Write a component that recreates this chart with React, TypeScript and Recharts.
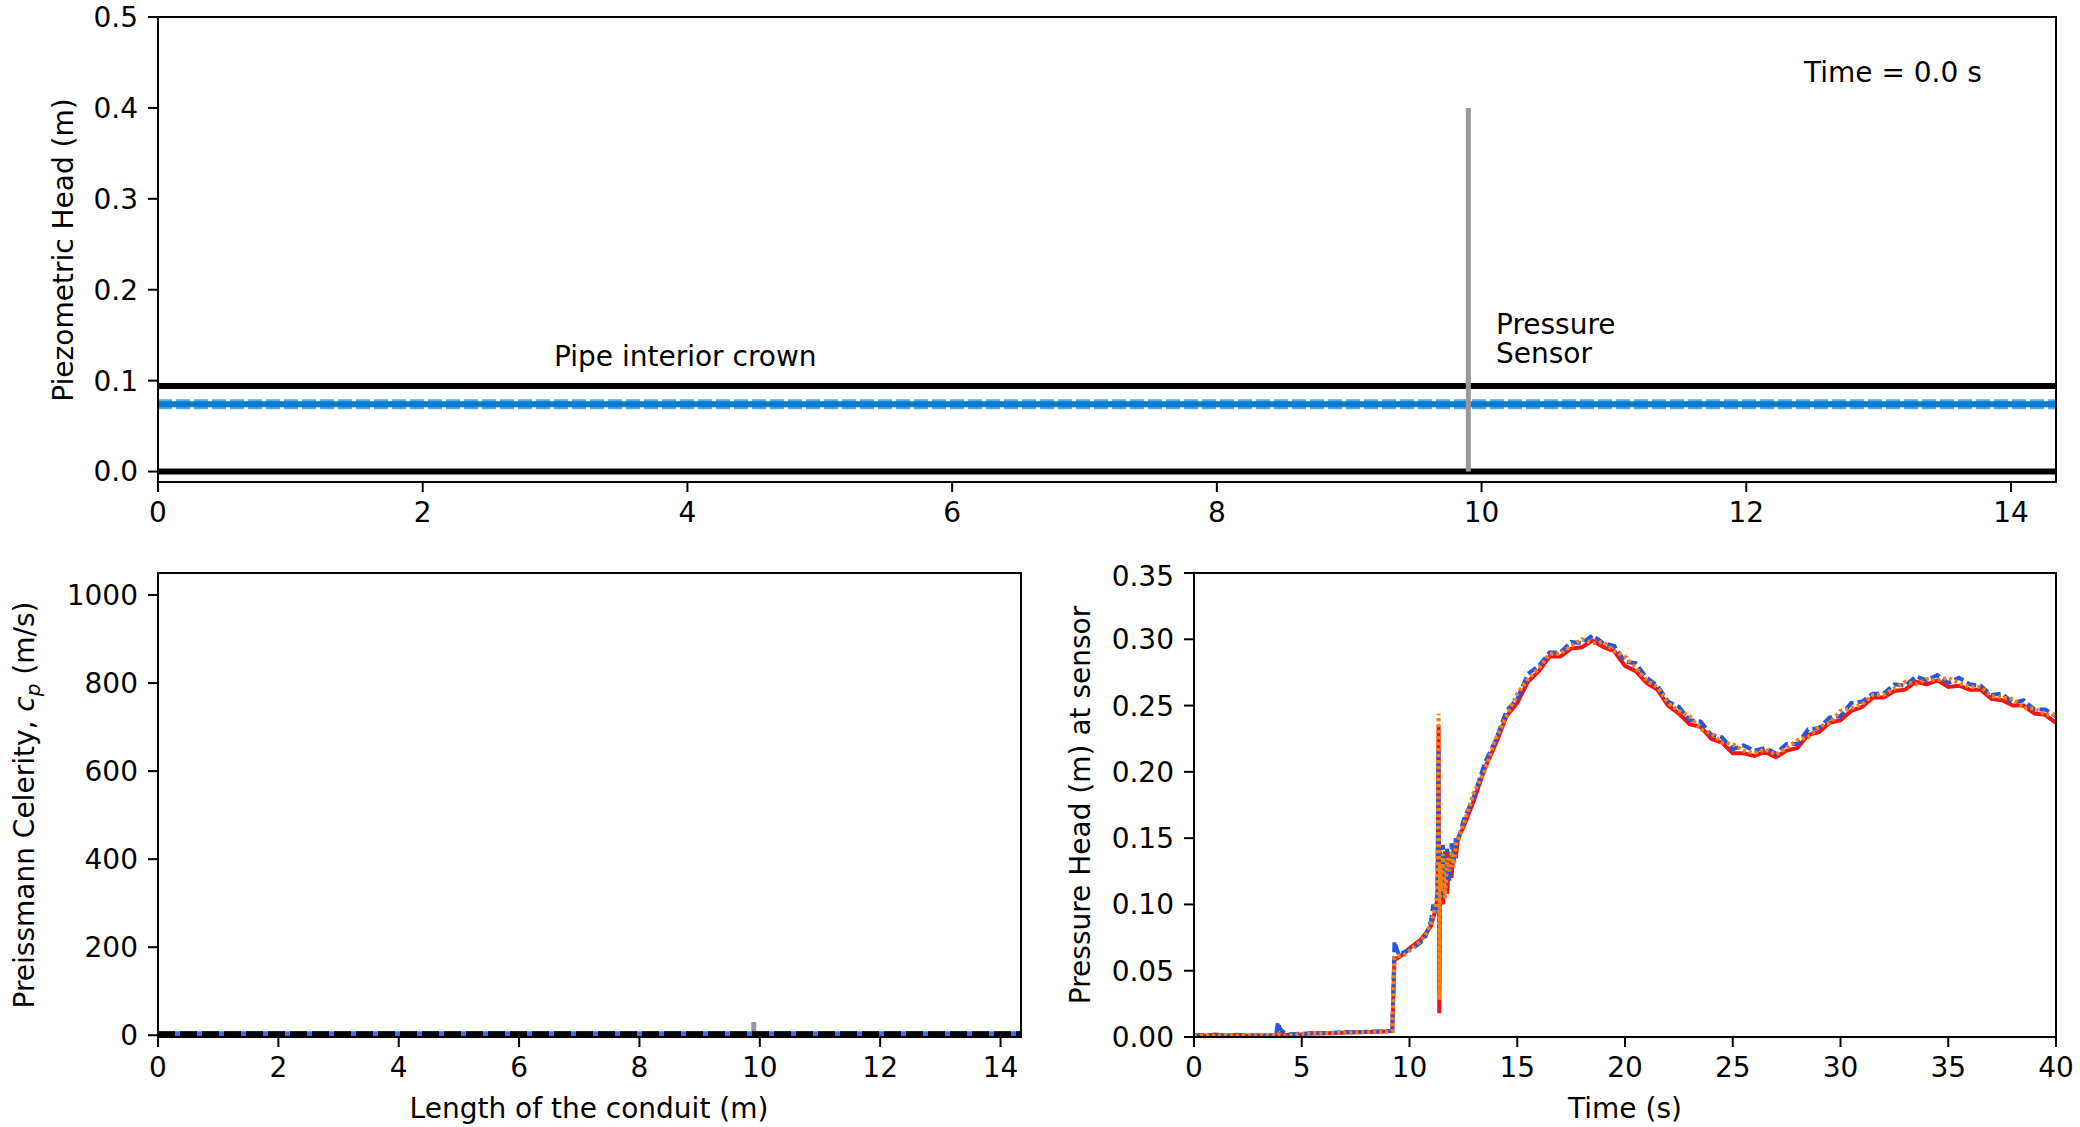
import React from "react";
import { LineChart, Line, XAxis, YAxis } from "recharts";

// ---- top panel: pipe profile at t = 0 ----
const pipeStations = [0, 14.34];
const invertHead = [0, 0];
const crownHead = [0.094, 0.094];
const waterHead = [0.074, 0.074];
const sensorStation = 9.9;
const sensorTopHead = 0.4;
const lengthTicks = [0, 2, 4, 6, 8, 10, 12, 14];
const headTicks = [0, 0.1, 0.2, 0.3, 0.4, 0.5];

// ---- bottom left: Preissmann celerity along the conduit ----
const celerityBlue = [2, 2];
const celerityBlack = [2, 2];
const sensorTopCelerity = 30;
const celerityTicks = [0, 200, 400, 600, 800, 1000];

// ---- bottom right: pressure head at the sensor ----
const timeS = [
  0, 0.5, 1, 1.5, 2, 2.5, 3, 3.5, 3.8, 3.9, 4.0, 4.2, 4.5, 5, 5.5, 6, 6.5, 7, 7.5, 8, 8.5, 9, 9.2,
  9.25, 9.3, 9.5, 9.75, 10, 10.25, 10.5, 10.75, 11.0, 11.1, 11.2, 11.3, 11.35, 11.38, 11.42, 11.46,
  11.55, 11.65, 11.75, 11.85, 11.95, 12.05, 12.15, 12.25,
  12.5, 13, 13.5, 14, 14.5, 15, 15.5, 16, 16.5, 17, 17.5, 18, 18.5, 19, 19.5, 20, 20.5, 21, 21.5, 22,
  22.5, 23, 23.5, 24, 24.5, 25, 25.5, 26, 26.5, 27, 27.5, 28, 28.5, 29, 29.5, 30, 30.5, 31, 31.5, 32,
  32.5, 33, 33.5, 34, 34.5, 35, 35.5, 36, 36.5, 37, 37.5, 38, 38.5, 39, 39.5, 40,
];
const headBlue = [
  0.001, 0.0015, 0.001, 0.0012, 0.0008, 0.0013, 0.001, 0.0012, 0.0015, 0.011, 0.006, 0.003, 0.002,
  0.0025, 0.003, 0.0028, 0.0033, 0.0038, 0.0035, 0.004, 0.0042, 0.0045, 0.0048,
  0.035, 0.072, 0.062, 0.064, 0.066, 0.068, 0.071, 0.076, 0.088, 0.1, 0.094, 0.11, 0.218, 0.034, 0.14,
  0.105, 0.145, 0.112, 0.142, 0.118, 0.146, 0.13, 0.15, 0.148,
  0.163, 0.182, 0.207, 0.224, 0.246, 0.255, 0.274, 0.28, 0.29, 0.29,
  0.298, 0.297, 0.303, 0.297, 0.295, 0.283, 0.282, 0.271, 0.265, 0.253,
  0.249, 0.239, 0.238, 0.228, 0.226, 0.217, 0.22, 0.216, 0.218, 0.214,
  0.221, 0.221, 0.232, 0.233, 0.241, 0.242, 0.252, 0.253, 0.259, 0.259,
  0.266, 0.265, 0.272, 0.269, 0.273, 0.267, 0.271, 0.266, 0.265, 0.258,
  0.259, 0.252, 0.254, 0.247, 0.247, 0.242,
];
const headRed = [
  0.0015, 0.001, 0.0018, 0.001, 0.0016, 0.001, 0.0014, 0.001, 0.0012, 0.003, 0.002, 0.0015, 0.0018,
  0.002, 0.0026, 0.003, 0.0028, 0.0034, 0.0036, 0.0038, 0.004, 0.0043, 0.0045,
  0.03, 0.058, 0.06, 0.063, 0.067, 0.07, 0.073, 0.078, 0.084, 0.09, 0.095, 0.105, 0.235, 0.018, 0.12,
  0.135, 0.1, 0.14, 0.108, 0.138, 0.12, 0.143, 0.135, 0.15,
  0.158, 0.179, 0.203, 0.221, 0.242, 0.252, 0.268, 0.276, 0.287, 0.287,
  0.293, 0.294, 0.299, 0.294, 0.291, 0.28, 0.276, 0.267, 0.262, 0.25,
  0.244, 0.236, 0.234, 0.225, 0.222, 0.214, 0.214, 0.212, 0.215, 0.211,
  0.216, 0.218, 0.228, 0.23, 0.237, 0.239, 0.246, 0.249, 0.256, 0.256,
  0.261, 0.262, 0.268, 0.266, 0.269, 0.264, 0.265, 0.262, 0.262, 0.255,
  0.254, 0.25, 0.25, 0.244, 0.243, 0.237,
];
const headOrange = [
  0.0008, 0.0012, 0.0009, 0.0014, 0.001, 0.0011, 0.0009, 0.0013, 0.001, 0.002, 0.0015, 0.001, 0.0015,
  0.0022, 0.0024, 0.0029, 0.003, 0.0032, 0.0035, 0.0037, 0.0041, 0.004, 0.0044,
  0.032, 0.06, 0.061, 0.062, 0.065, 0.069, 0.072, 0.077, 0.086, 0.092, 0.098, 0.108, 0.244, 0.028, 0.13,
  0.11, 0.138, 0.105, 0.135, 0.125, 0.14, 0.128, 0.145, 0.149,
  0.16, 0.185, 0.201, 0.225, 0.242, 0.259, 0.27, 0.278, 0.289, 0.289,
  0.295, 0.3, 0.297, 0.298, 0.291, 0.287, 0.278, 0.269, 0.264, 0.252,
  0.246, 0.242, 0.232, 0.229, 0.222, 0.221, 0.216, 0.214, 0.217, 0.213,
  0.218, 0.224, 0.226, 0.234, 0.237, 0.246, 0.248, 0.251, 0.258, 0.258,
  0.263, 0.268, 0.266, 0.27, 0.269, 0.271, 0.267, 0.264, 0.264, 0.257,
  0.256, 0.255, 0.248, 0.248, 0.243, 0.243,
];
const timeTicks = [0, 5, 10, 15, 20, 25, 30, 35, 40];
const pressureTicks = [0, 0.05, 0.1, 0.15, 0.2, 0.25, 0.3, 0.35];

const FONT = '"DejaVu Sans", sans-serif';
const tickStyle = { fontSize: 28, fill: "#000", fontFamily: FONT };
const tickLine = { stroke: "#000", strokeWidth: 2 };

const pairs = (xs: number[], ys: number[]) => xs.map((x, i) => ({ x, y: ys[i] }));

const pressureData = timeS.map((t, i) => ({
  t,
  blue: headBlue[i],
  red: headRed[i],
  orange: headOrange[i],
}));

// box around a plot area, in page pixels
const Frame = ({ l, t, r, b }: { l: number; t: number; r: number; b: number }) => (
  <div
    style={{
      position: "absolute",
      left: l - 1,
      top: t - 1,
      width: r - l + 2,
      height: b - t + 2,
      border: "2px solid #000",
      boxSizing: "border-box",
      pointerEvents: "none",
    }}
  />
);

const Text = ({ x, y, children, rotate, center }: any) => (
  <div
    style={{
      position: "absolute",
      left: x,
      top: y,
      fontSize: 28,
      lineHeight: "34px",
      whiteSpace: "nowrap",
      color: "#000",
      transform: center ? `translate(-50%, -50%)${rotate ? " rotate(-90deg)" : ""}` : undefined,
    }}
  >
    {children}
  </div>
);

const App: React.FC = () => {
  const sensorLine = [
    { x: sensorStation, y: 0 },
    { x: sensorStation, y: sensorTopHead },
  ];
  const sensorStub = [
    { x: sensorStation, y: 0 },
    { x: sensorStation, y: sensorTopCelerity },
  ];

  return (
    <div
      style={{
        position: "absolute",
        left: 0,
        top: 0,
        width: 2080,
        height: 1127,
        background: "#fff",
        fontFamily: FONT,
        overflow: "hidden",
      }}
    >
      {/* top: piezometric head along the pipe */}
      <div style={{ position: "absolute", left: 0, top: 0 }}>
        <LineChart width={2080} height={560} margin={{ top: 17, right: 24, bottom: 28, left: 0 }}>
          <XAxis
            type="number"
            dataKey="x"
            domain={[0, 14.34]}
            ticks={lengthTicks}
            allowDataOverflow
            axisLine={false}
            tickLine={tickLine}
            tickSize={10}
            tickMargin={10}
            tick={tickStyle}
            height={50}
          />
          <YAxis
            type="number"
            dataKey="y"
            domain={[-0.0115, 0.5]}
            ticks={headTicks}
            tickFormatter={(v: number) => v.toFixed(1)}
            allowDataOverflow
            axisLine={false}
            tickLine={tickLine}
            tickSize={10}
            tickMargin={10}
            tick={tickStyle}
            width={158}
          />
          <Line data={pairs(pipeStations, invertHead)} dataKey="y" stroke="#000" strokeWidth={6} dot={false} isAnimationActive={false} />
          <Line data={pairs(pipeStations, crownHead)} dataKey="y" stroke="#000" strokeWidth={6} dot={false} isAnimationActive={false} />
          <Line data={pairs(pipeStations, waterHead)} dataKey="y" stroke="#56a8e8" strokeWidth={10} strokeDasharray="14 4" dot={false} isAnimationActive={false} />
          <Line data={pairs(pipeStations, waterHead)} dataKey="y" stroke="#0a7bd0" strokeWidth={6} dot={false} isAnimationActive={false} />
          <Line data={sensorLine} dataKey="y" stroke="#999" strokeWidth={5} dot={false} isAnimationActive={false} />
        </LineChart>
      </div>
      <Frame l={158} t={17} r={2056} b={482} />
      <Text x={1804} y={56}>Time = 0.0 s</Text>
      <Text x={554} y={340}>Pipe interior crown</Text>
      <div style={{ position: "absolute", left: 1496, top: 310, fontSize: 28, lineHeight: "29px" }}>
        Pressure
        <br />
        Sensor
      </div>
      <Text x={64} y={250} center rotate>
        Piezometric Head (m)
      </Text>

      {/* bottom left: celerity */}
      <div style={{ position: "absolute", left: 0, top: 560 }}>
        <LineChart width={1050} height={567} margin={{ top: 13, right: 29, bottom: 40, left: 0 }}>
          <XAxis
            type="number"
            dataKey="x"
            domain={[0, 14.34]}
            ticks={lengthTicks}
            allowDataOverflow
            axisLine={false}
            tickLine={tickLine}
            tickSize={10}
            tickMargin={10}
            tick={tickStyle}
            height={50}
          />
          <YAxis
            type="number"
            dataKey="y"
            domain={[-4, 1050]}
            ticks={celerityTicks}
            allowDataOverflow
            axisLine={false}
            tickLine={tickLine}
            tickSize={10}
            tickMargin={10}
            tick={tickStyle}
            width={158}
          />
          <Line data={sensorStub} dataKey="y" stroke="#999" strokeWidth={5} dot={false} isAnimationActive={false} />
          <Line data={pairs(pipeStations, celerityBlue)} dataKey="y" stroke="#3b6fe8" strokeWidth={6} dot={false} isAnimationActive={false} />
          <Line data={pairs(pipeStations, celerityBlack)} dataKey="y" stroke="#000" strokeWidth={6} strokeDasharray="17 5" dot={false} isAnimationActive={false} />
        </LineChart>
      </div>
      <Frame l={158} t={573} r={1021} b={1037} />
      <Text x={589} y={1109} center>
        Length of the conduit (m)
      </Text>
      <Text x={29} y={805} center rotate>
        Preissmann Celerity, <i>c</i>
        <sub style={{ fontSize: 20 }}>
          <i>p</i>
        </sub>{" "}
        (m/s)
      </Text>

      {/* bottom right: pressure head at sensor */}
      <div style={{ position: "absolute", left: 1100, top: 560 }}>
        <LineChart width={980} height={567} data={pressureData} margin={{ top: 13, right: 24, bottom: 40, left: 0 }}>
          <XAxis
            type="number"
            dataKey="t"
            domain={[0, 40]}
            ticks={timeTicks}
            allowDataOverflow
            axisLine={false}
            tickLine={tickLine}
            tickSize={10}
            tickMargin={10}
            tick={tickStyle}
            height={50}
          />
          <YAxis
            type="number"
            domain={[0, 0.35]}
            ticks={pressureTicks}
            tickFormatter={(v: number) => v.toFixed(2)}
            allowDataOverflow
            axisLine={false}
            tickLine={tickLine}
            tickSize={10}
            tickMargin={10}
            tick={tickStyle}
            width={94}
          />
          <Line dataKey="red" stroke="#f01414" strokeWidth={4} dot={false} isAnimationActive={false} />
          <Line dataKey="blue" stroke="#2456e0" strokeWidth={4} strokeDasharray="10 4" dot={false} isAnimationActive={false} />
          <Line dataKey="orange" stroke="#ff7f0e" strokeWidth={4} strokeDasharray="3 3" dot={false} isAnimationActive={false} />
        </LineChart>
      </div>
      <Frame l={1194} t={573} r={2056} b={1037} />
      <Text x={1625} y={1109} center>
        Time (s)
      </Text>
      <Text x={1081} y={805} center rotate>
        Pressure Head (m) at sensor
      </Text>
    </div>
  );
};

export default App;
